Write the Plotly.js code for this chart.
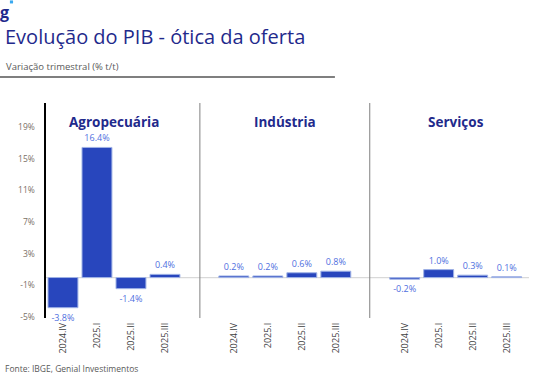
<!DOCTYPE html>
<html><head><meta charset="utf-8">
<script src="https://cdn.plot.ly/plotly-3.0.1.min.js"></script>
<style>body{margin:0;padding:0;background:#fff}#chart{width:539px;height:380px}</style>
</head><body><div id="chart"></div>
<script>
const quarters = ["2024.IV", "2025.I", "2025.II", "2025.III"];
const sectors = ["Agropecuária", "Indústria", "Serviços"];
const agro = [-3.8, 16.4, -1.4, 0.4];
const industria = [0.2, 0.2, 0.6, 0.8];
const servicos = [-0.2, 1.0, 0.3, 0.1];
const yTicks = [19, 15, 11, 7, 3, -1, -5];
const yTickText = yTicks.map(v => v + "%");

const series = [agro, industria, servicos];
const axes = ["x", "x2", "x3"];
const fmt = v => v.toFixed(1) + "%";

const traces = series.map((vals, i) => ({
  type: "bar",
  x: quarters,
  y: vals,
  xaxis: axes[i],
  yaxis: "y",
  marker: {color: "#2846bd", line: {color: "#9fb2e6", width: 1}},
  text: vals.map(fmt),
  textposition: "outside",
  textfont: {family: "Open Sans, sans-serif", size: 9, color: "#4f6fe0"},
  cliponaxis: false,
  hoverinfo: "skip",
  showlegend: false
}));

const xBase = {
  type: "category",
  tickangle: -90,
  tickfont: {family: "Open Sans, sans-serif", size: 9, color: "#404040"},
  showgrid: false,
  zeroline: false,
  showline: false,
  ticks: "",
  ticklabelstandoff: 2,
  fixedrange: true,
  anchor: "y"
};

const doms = [[0.002, 0.283], [0.355, 0.636], [0.708, 0.989]];

const layout = {
  width: 539, height: 380,
  margin: {l: 45, r: 10, t: 103, b: 62},
  paper_bgcolor: "#fff", plot_bgcolor: "#fff",
  bargap: 0.12,
  font: {family: "Open Sans, sans-serif"},
  xaxis: Object.assign({}, xBase, {domain: doms[0]}),
  xaxis2: Object.assign({}, xBase, {domain: doms[1]}),
  xaxis3: Object.assign({}, xBase, {domain: doms[2]}),
  yaxis: {
    range: [-5.1, 22],
    tickvals: yTicks, ticktext: yTickText,
    tickfont: {family: "Open Sans, sans-serif", size: 8.5, color: "#7a6f66"},
    showgrid: false, zeroline: false,
    showline: true, linecolor: "#000", linewidth: 1.5,
    ticks: "", ticklabelstandoff: 8,
    fixedrange: true
  },
  shapes: [
    {type: "line", xref: "paper", yref: "y", x0: 0, x1: 1, y0: 0, y1: 0, line: {color: "#d9d9d9", width: 1.2}, layer: "below"},
    {type: "line", xref: "paper", yref: "paper", x0: 0.320, x1: 0.320, y0: 0, y1: 1, line: {color: "#808080", width: 1}},
    {type: "line", xref: "paper", yref: "paper", x0: 0.671, x1: 0.671, y0: 0, y1: 1, line: {color: "#808080", width: 1}},
    {type: "line", xref: "paper", yref: "paper", x0: -0.093, x1: 0.599, y0: 1.121, y1: 1.121, line: {color: "#000", width: 1.2}},
    {type: "rect", xref: "paper", yref: "paper", x0: -0.0725, x1: -0.066, y0: 1.463, y1: 1.477, line: {width: 0}, fillcolor: "#39a9f0"}
  ],
  annotations: [
    ...sectors.map((s, i) => ({
      text: "<b>" + s + "</b>", xref: axes[i] + " domain", yref: "paper",
      x: 0.5, y: 0.912, xanchor: "center", yanchor: "middle", showarrow: false,
      font: {family: "Open Sans, sans-serif", size: 13.5, color: "#1f2a8c"}
    })),
    {text: "Evolução do PIB - ótica da oferta", xref: "paper", yref: "paper", x: -0.085, y: 1.307,
     xanchor: "left", yanchor: "middle", showarrow: false, borderpad: 0,
     font: {family: "Open Sans, sans-serif", size: 20, color: "#1f2a8c"}},
    {text: "Variação trimestral (% t/t)", xref: "paper", yref: "paper", x: -0.085, y: 1.172,
     xanchor: "left", yanchor: "middle", showarrow: false,
     font: {family: "Open Sans, sans-serif", size: 9.5, color: "#595959"}},
    {text: "<b>g</b>", xref: "paper", yref: "paper", x: -0.095, y: 1.479,
     xanchor: "left", yanchor: "top", showarrow: false, borderpad: 0,
     font: {family: "Open Sans, sans-serif", size: 16, color: "#1f2a8c"}},
    {text: "Fonte: IBGE, Genial Investimentos", xref: "paper", yref: "paper", x: -0.087, y: -0.233,
     xanchor: "left", yanchor: "middle", showarrow: false,
     font: {family: "Open Sans, sans-serif", size: 8.5, color: "#595959"}}
  ]
};

Plotly.newPlot("chart", traces, layout, {displayModeBar: false, staticPlot: true});
</script></body></html>
